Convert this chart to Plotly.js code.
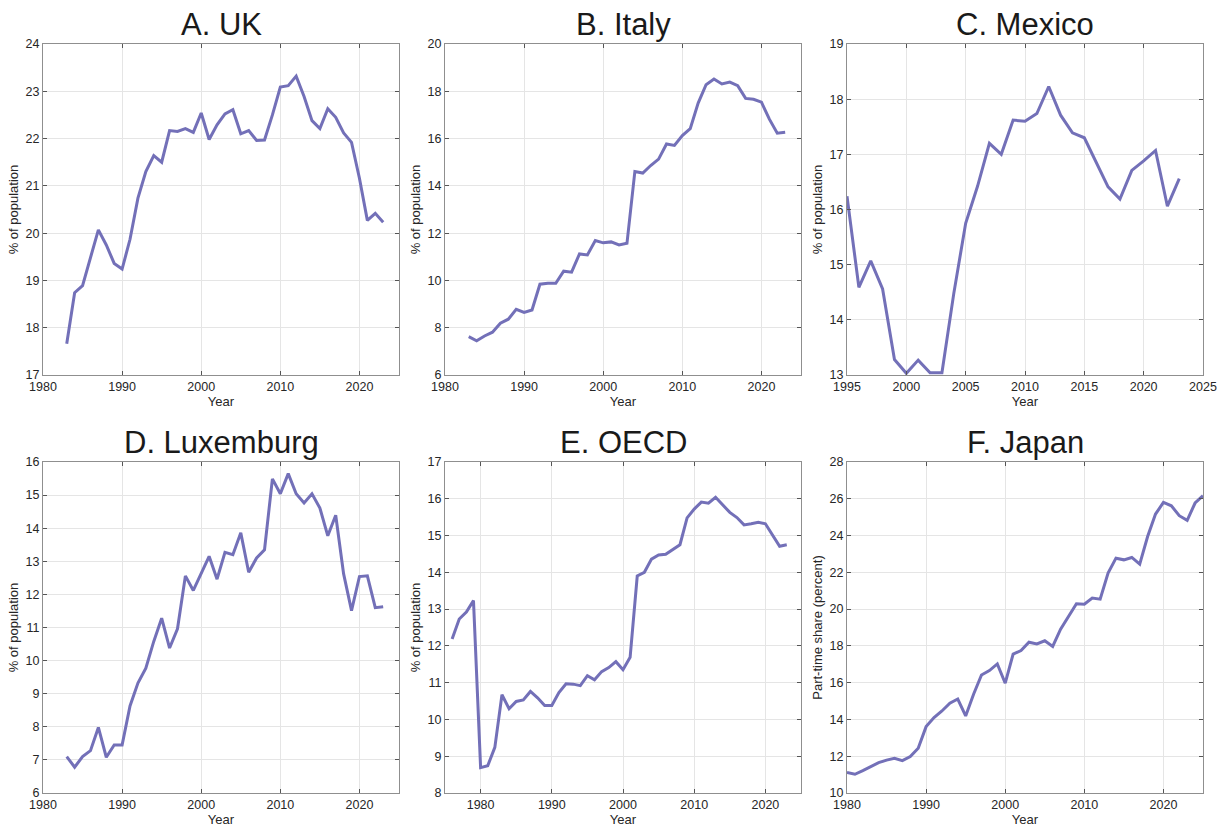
<!DOCTYPE html>
<html>
<head>
<meta charset="utf-8">
<script src="https://cdn.plot.ly/plotly-3.0.1.min.js"></script>
<style>html,body{margin:0;padding:0;background:#fff;}#chart{width:1225px;height:836px;}</style>
</head>
<body>
<div id="chart"></div>
<script>
// ---- Data ----
const ukYears = [1983,1984,1985,1986,1987,1988,1989,1990,1991,1992,1993,1994,1995,1996,1997,1998,1999,2000,2001,2002,2003,2004,2005,2006,2007,2008,2009,2010,2011,2012,2013,2014,2015,2016,2017,2018,2019,2020,2021,2022,2023];
const ukValues = [17.66,18.74,18.89,19.48,20.07,19.75,19.36,19.24,19.87,20.74,21.30,21.64,21.50,22.17,22.15,22.21,22.13,22.54,21.98,22.29,22.52,22.61,22.10,22.17,21.96,21.97,22.50,23.09,23.12,23.32,22.89,22.38,22.21,22.63,22.45,22.12,21.92,21.16,20.27,20.42,20.23];

const italyYears = [1983,1984,1985,1986,1987,1988,1989,1990,1991,1992,1993,1994,1995,1996,1997,1998,1999,2000,2001,2002,2003,2004,2005,2006,2007,2008,2009,2010,2011,2012,2013,2014,2015,2016,2017,2018,2019,2020,2021,2022,2023];
const italyValues = [7.62,7.45,7.65,7.81,8.19,8.36,8.78,8.65,8.75,9.84,9.88,9.88,10.39,10.35,11.12,11.08,11.69,11.59,11.63,11.50,11.57,14.61,14.54,14.86,15.13,15.77,15.71,16.13,16.42,17.50,18.28,18.52,18.31,18.39,18.24,17.70,17.66,17.54,16.82,16.23,16.27];

const mexicoYears = [1995,1996,1997,1998,1999,2000,2001,2002,2003,2004,2005,2006,2007,2008,2009,2010,2011,2012,2013,2014,2015,2016,2017,2018,2019,2020,2021,2022,2023];
const mexicoValues = [16.24,14.59,15.07,14.56,13.28,13.03,13.27,13.04,13.04,14.48,15.75,16.42,17.20,17.00,17.62,17.60,17.74,18.23,17.71,17.39,17.30,16.85,16.41,16.19,16.71,16.88,17.07,16.06,16.56];

const luxYears = [1983,1984,1985,1986,1987,1988,1989,1990,1991,1992,1993,1994,1995,1996,1997,1998,1999,2000,2001,2002,2003,2004,2005,2006,2007,2008,2009,2010,2011,2012,2013,2014,2015,2016,2017,2018,2019,2020,2021,2022,2023];
const luxValues = [7.10,6.78,7.10,7.28,7.98,7.08,7.45,7.45,8.63,9.32,9.77,10.58,11.28,10.38,10.96,12.56,12.12,12.61,13.15,12.46,13.27,13.20,13.86,12.67,13.10,13.35,15.49,15.04,15.65,15.04,14.76,15.04,14.61,13.77,14.39,12.62,11.51,12.54,12.56,11.60,11.63];

const oecdYears = [1976,1977,1978,1979,1980,1981,1982,1983,1984,1985,1986,1987,1988,1989,1990,1991,1992,1993,1994,1995,1996,1997,1998,1999,2000,2001,2002,2003,2004,2005,2006,2007,2008,2009,2010,2011,2012,2013,2014,2015,2016,2017,2018,2019,2020,2021,2022,2023];
const oecdValues = [12.19,12.73,12.92,13.23,8.69,8.74,9.24,10.67,10.29,10.49,10.53,10.76,10.59,10.38,10.38,10.73,10.97,10.96,10.92,11.19,11.08,11.30,11.41,11.57,11.35,11.69,13.90,14.00,14.36,14.47,14.49,14.63,14.75,15.48,15.72,15.91,15.88,16.04,15.84,15.63,15.49,15.29,15.32,15.36,15.32,15.02,14.71,14.75];

const japanYears = [1980,1981,1982,1983,1984,1985,1986,1987,1988,1989,1990,1991,1992,1993,1994,1995,1996,1997,1998,1999,2000,2001,2002,2003,2004,2005,2006,2007,2008,2009,2010,2011,2012,2013,2014,2015,2016,2017,2018,2019,2020,2021,2022,2023,2024,2025];
const japanValues = [11.11,11.02,11.22,11.43,11.65,11.79,11.89,11.76,11.98,12.43,13.61,14.10,14.46,14.88,15.11,14.19,15.37,16.42,16.66,17.02,15.97,17.55,17.75,18.20,18.11,18.28,17.97,18.91,19.60,20.29,20.27,20.60,20.54,21.96,22.77,22.68,22.81,22.45,23.95,25.17,25.80,25.62,25.08,24.83,25.77,26.17];

const panelTitles = ["A. UK","B. Italy","C. Mexico","D. Luxemburg","E. OECD","F. Japan"];
const yTitles = ["% of population","% of population","% of population","% of population","% of population","Part-time share (percent)"];
const xTitle = "Year";

// ---- Layout config ----
const series = [[ukYears,ukValues],[italyYears,italyValues],[mexicoYears,mexicoValues],[luxYears,luxValues],[oecdYears,oecdValues],[japanYears,japanValues]];
const xRanges = [[1980,2025],[1980,2025],[1995,2025],[1980,2025],[1975,2025],[1980,2025]];
const xDticks = [10,10,5,10,10,10];
const yRanges = [[17,24],[6,20],[13,19],[6,16],[8,17],[10,28]];
const yDticks = [1,2,1,1,1,2];
const xDomains = [[43/1225,399/1225],[445/1225,801/1225],[847/1225,1203/1225]];
const yDomains = [[1-375/836,1-44/836],[1-793/836,1-462/836]];

const FONT = "Liberation Sans, Arial, Helvetica, sans-serif";
const LINE = "#7370b8";
const data = [];
const layout = {
  width:1225, height:836,
  margin:{l:0,r:0,t:0,b:0},
  paper_bgcolor:"#fff", plot_bgcolor:"#fff",
  showlegend:false,
  font:{family:FONT, size:12, color:"#262626"},
  annotations:[]
};
for (let i=0;i<6;i++){
  const n = i+1;
  const xa = n===1?"x":"x"+n, ya = n===1?"y":"y"+n;
  data.push({x:series[i][0], y:series[i][1], xaxis:xa, yaxis:ya, type:"scatter", mode:"lines",
    line:{color:LINE, width:3}, hoverinfo:"x+y"});
  const common = {showline:true, linecolor:"#8f8f8f", linewidth:1, mirror:"ticks",
    ticks:"inside", ticklen:4, tickcolor:"#555", showgrid:true, gridcolor:"#e5e5e5", gridwidth:1,
    zeroline:false, tickfont:{family:FONT,size:12.5,color:"#262626"}};
  layout["xaxis"+(n===1?"":n)] = Object.assign({}, common, {
    domain:xDomains[i%3], anchor:ya, range:xRanges[i], dtick:xDticks[i], tick0:1980,
    title:{text:xTitle, font:{family:FONT,size:13,color:"#262626"}, standoff:2}
  });
  layout["yaxis"+(n===1?"":n)] = Object.assign({}, common, {
    domain:yDomains[Math.floor(i/3)], anchor:xa, range:yRanges[i], dtick:yDticks[i],
    title:{text:yTitles[i], font:{family:FONT,size:13,color:"#262626"}, standoff:4}
  });
  layout.annotations.push({text:panelTitles[i], xref:xa+" domain", yref:ya+" domain", x:0.5, y:1,
    xanchor:"center", yanchor:"bottom", yshift:0, showarrow:false,
    font:{family:FONT,size:31,color:"#1a1a1a"}});
}
Plotly.newPlot("chart", data, layout, {displayModeBar:false, staticPlot:true});
</script>
</body>
</html>
